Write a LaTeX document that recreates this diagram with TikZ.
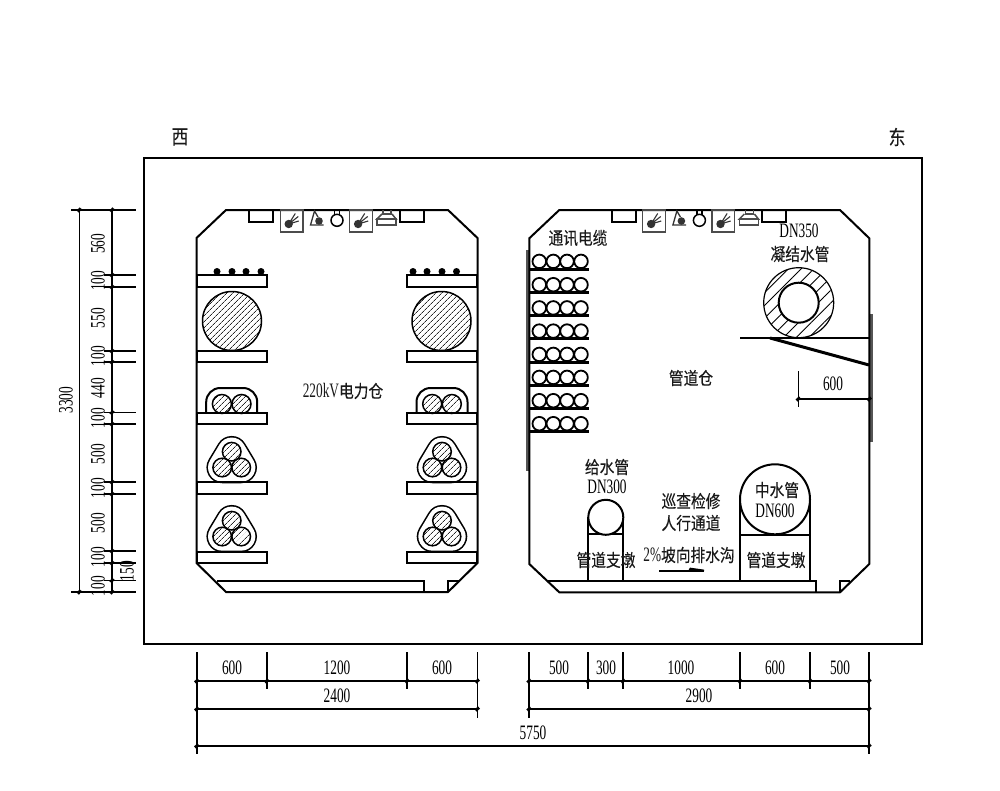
\documentclass[tikz,border=0pt]{standalone}
\usepackage{fontspec}
\setmainfont{Liberation Serif}
\newfontfamily\cjk[FakeStretch=0.84,FakeBold=0.2]{Noto Sans CJK SC}
\newfontfamily\lat[FakeStretch=0.65]{Liberation Serif}
\usetikzlibrary{patterns.meta}
\definecolor{wall}{HTML}{555555}
\tikzset{
  x=1pt,y=-1pt,
  struct/.style={draw=black,line width=2pt,line join=miter},
  thin struct/.style={draw=black,line width=1.5pt},
  dimline/.style={draw=black,line width=1.6pt},
  tick/.style={draw=black,line width=3pt},
  fine/.style={draw=black,line width=1.5pt,pattern={Lines[angle=45,distance=4pt,line width=.7pt]},pattern color=black!85},
  coarse/.style={draw=black,line width=1.2pt,pattern={Lines[angle=45,distance=9pt,line width=.9pt]},pattern color=black},
  lbl/.style={font=\lat\fontsize{20.5}{22}\selectfont,inner sep=0pt,text=black},
  zh/.style={font=\cjk\fontsize{17.5}{20}\selectfont,inner sep=0pt,text=black!90},
  vlbl/.style={lbl,rotate=90},
}
\newcommand{\shelf}[3]{\draw[struct] (#1,#2) rectangle (#1+70,#3);}
\newcommand{\trefoil}[2]{%
  \draw[black,line width=31.5pt,line join=round] (#1,#2) -- (#1-9.5,#2+15.8) -- (#1+9.5,#2+15.8) -- cycle;
  \draw[white,line width=28.3pt,line join=round] (#1,#2) -- (#1-9.5,#2+15.8) -- (#1+9.5,#2+15.8) -- cycle;
  \path[fine] (#1,#2) circle (9.3);
  \path[fine] (#1-9.5,#2+15.8) circle (9.3);
  \path[fine] (#1+9.5,#2+15.8) circle (9.3);
}
\newcommand{\duo}[1]{%
  \draw[struct,rounded corners=14pt] (#1-25.5,413) -- (#1-25.5,388) -- (#1+25.5,388) -- (#1+25.5,413);
  \path[fine] (#1-9.8,404) circle (9.5);
  \path[fine] (#1+9.8,404) circle (9.5);
}
\newcommand{\fixtures}[1]{%
  \begin{scope}[xshift=#1pt]
  \draw[struct] (249.3,210) rectangle (273.3,222);
  \draw[struct] (400,210) rectangle (424,222);
  \foreach \bx in {280.3,349.7}{
    \draw[thin struct,draw=black!70] (\bx,210) rectangle (\bx+22.6,232);
    \fill[black!80] (\bx+8.4,224) circle (4.2);
    \draw[black!80,line width=1.1pt] (\bx+8.4,224) -- (\bx+15,213.5) (\bx+8.4,224) -- (\bx+18,216.5) (\bx+8.4,224) -- (\bx+18.5,221);
  }
  \draw[black!80,line width=1.3pt] (323.7,225) -- (310.5,225) -- (314.5,211) -- (318,217);
  \fill[black!80] (319,221) circle (3.8);
  \draw[thin struct] (337,220.3) circle (6);
  \draw[thin struct] (334.5,210) -- (334.5,215) (339.5,210) -- (339.5,215);
  \draw[thin struct,draw=black!70] (383,210) -- (383,214) -- (391,214) -- (391,210);
  \draw[thin struct,draw=black!70] (382,214) -- (377,219) -- (396,219) -- (392,214);
  \draw[thin struct,draw=black!70] (377,219) rectangle (396,225);
  \end{scope}
}
\begin{document}
\begin{tikzpicture}
\useasboundingbox (0,0) rectangle (1000,790);
\fill[white] (0,0) rectangle (1000,790);
% outer frame
\draw[struct] (144,158) rectangle (922,644);
\node[zh,font=\cjk\fontsize{20}{22}\selectfont] (west) at (180,137) {西};
\node[zh,font=\cjk\fontsize{20}{22}\selectfont] (east) at (897,137) {东};

% ---- left chamber
\duo{231.7}
\duo{442}
\trefoil{231.7}{451.7}
\trefoil{442}{451.7}
\trefoil{231.7}{520.7}
\trefoil{442}{520.7}
\draw[struct] (226,210) -- (448,210) -- (477.5,238) -- (477.5,563) -- (448,592) -- (226,592) -- (196.5,563) -- (196.5,238) -- cycle;
\draw[struct] (217,580.5) -- (424,580.5) -- (424,592);
\draw[struct] (448,592) -- (448,580.5) -- (459,580.5);
\fixtures{0}
\foreach \sx in {196.5,407}{
  \shelf{\sx}{275}{287}
  \shelf{\sx}{351}{362}
  \shelf{\sx}{413}{424}
  \shelf{\sx}{482}{494}
  \shelf{\sx}{552}{563}
}
\foreach \dx in {217,232,246,261,413,427,442,456.5}{\fill (\dx,271.5) circle (3.5);}
\path[fine] (232,321) circle (29.5);
\path[fine] (441.5,321) circle (29.5);
\node[zh] (power) at (343,391) {{\lat\fontsize{20.5}{22}\selectfont 220kV}电力仓};

% ---- right chamber
\fill[wall] (525.5,250) rectangle (529.5,471);
\fill[wall] (869,314) rectangle (873,442);
\draw[struct] (559.3,210) -- (840,210) -- (869.3,238.3) -- (869.3,564) -- (840,592.3) -- (559.3,592.3) -- (529.3,564) -- (529.3,238.3) -- cycle;
\draw[struct] (547.3,580.5) -- (816,580.5) -- (816,592.3);
\draw[struct] (840,592.3) -- (840,580.5) -- (850,580.5);
\fixtures{362.4}
\foreach \ty in {269,292.3,315.5,338.7,362,385,408.3,431.3}{
  \draw[black,line width=3pt] (530,\ty) -- (589,\ty);
  \foreach \cx in {539.3,553.3,567,581}{\draw[black,line width=1.8pt] (\cx,\ty-7.6) circle (6.8);}
}
\path[coarse] (798.7,302.7) circle (35);
\draw[struct,fill=white] (798.7,302.7) circle (20);
\draw[black,line width=2.4pt] (740,337.7) -- (869,337.7);
\draw[black,line width=3pt] (770,338) -- (869,365);
% supports
\draw[struct] (588.3,517.3) -- (588.3,580.5) (623.3,517.3) -- (623.3,580.5) (588.3,534.4) -- (623.3,534.4);
\draw[struct,fill=white] (605.8,517.3) circle (17.5);
\draw[struct] (740,499.3) -- (740,580.5) (810,499.3) -- (810,580.5) (740,534.6) -- (810,534.6);
\draw[struct,fill=white] (775,499.3) circle (35);
% slope arrow
\draw[black,line width=1.8pt] (659,571) -- (704,571);
\fill (688,571) -- (704,571) -- (704,569.6) -- (690,567.6) -- cycle;
% labels
\node[zh] (tele) at (578,238) {通讯电缆};
\node[lbl] (dn350) at (799,231) {DN350};
\node[zh] (cond) at (800,254) {凝结水管};
\node[zh] (pipe) at (691,378) {管道仓};
\node[zh] (supply) at (607,467) {给水管};
\node[lbl] (dn300) at (607,487) {DN300};
\node[zh] (patrol) at (691,501) {巡查检修};
\node[zh] (walk) at (691,523) {人行通道};
\node[zh] (slope) at (689,555) {{\lat\fontsize{20.5}{22}\selectfont 2\%}坡向排水沟};
\node[zh] (mid) at (777,490) {中水管};
\node[lbl] (dn600) at (775,511) {DN600};
\node[zh] (pier1) at (606,560) {管道支墩};
\node[zh] (pier2) at (776,560) {管道支墩};
% 600 dimension
\draw[dimline] (798.3,371) -- (798.3,407);
\draw[dimline] (798.3,399) -- (869,399);
\draw[tick] (796.5,400.5) -- (800,397.5) (867.5,400.5) -- (871,397.5);
\node[lbl] (d600) at (833,384) {600};

% ---- left dimensions
\draw[dimline] (79.3,210) -- (79.3,592);
\draw[dimline,line width=2.2pt] (112,210) -- (112,592);
\draw[dimline] (71,210) -- (136,210);
\draw[dimline] (71,592) -- (136,592);
\foreach \hy in {275,287,351,362,412.5,424,482,494,551,563,580.5}{
  \draw[dimline] (104,\hy) -- (136,\hy);
  \draw[tick] (110.5,\hy+1.7) -- (113.5,\hy-1.7);
}
\foreach \hx in {79.3,112}{
  \draw[tick] (\hx-1.5,211.7) -- (\hx+1.5,208.3);
  \draw[tick] (\hx-1.5,593.7) -- (\hx+1.5,590.3);
}
\node[vlbl] (a1) at (98,244) {560};
\node[vlbl] (a2) at (98,281) {100};
\node[vlbl] (a3) at (98,318) {550};
\node[vlbl] (a4) at (98,356) {100};
\node[vlbl] (a5) at (98,388) {440};
\node[vlbl] (a6) at (98,418) {100};
\node[vlbl] (a7) at (98,454) {500};
\node[vlbl] (a8) at (98,488) {100};
\node[vlbl] (a9) at (98,523) {500};
\node[vlbl] (a10) at (98,557) {100};
\node[vlbl] (a11) at (98,586) {100};
\node[vlbl] (a12) at (127,571) {150};
\node[vlbl] (a13) at (66,400) {3300};

% ---- bottom dimensions
\foreach \bx/\byy in {266.7/689,407/689,588/689,623/689,740/689,810/689,477.3/717.5,529/717.5}{
  \draw[dimline] (\bx,652) -- (\bx,\byy);
}
\draw[dimline] (196.7,652) -- (196.7,754);
\draw[dimline] (869,652) -- (869,754);
\draw[dimline,line width=2.2pt] (196.7,681) -- (477.3,681);
\draw[dimline,line width=2.2pt] (529,681) -- (869,681);
\draw[dimline] (196.7,709) -- (477.3,709);
\draw[dimline] (529,709) -- (869,709);
\draw[dimline] (196.7,746) -- (869,746);
\foreach \bx in {196.7,266.7,407,477.3,529,588,623,740,810,869}{\draw[tick] (\bx-1.7,682.5) -- (\bx+1.7,679.5);}
\foreach \bx in {196.7,477.3,529,869}{\draw[tick] (\bx-1.7,710.5) -- (\bx+1.7,707.5);}
\foreach \bx in {196.7,869}{\draw[tick] (\bx-1.7,747.5) -- (\bx+1.7,744.5);}
\node[lbl] (b1) at (232,668) {600};
\node[lbl] (b2) at (337,668) {1200};
\node[lbl] (b3) at (442,668) {600};
\node[lbl] (b4) at (337,696) {2400};
\node[lbl] (b5) at (559,668) {500};
\node[lbl] (b6) at (606,668) {300};
\node[lbl] (b7) at (681,668) {1000};
\node[lbl] (b8) at (775,668) {600};
\node[lbl] (b9) at (840,668) {500};
\node[lbl] (b10) at (699,696) {2900};
\node[lbl] (b11) at (533,733) {5750};
\end{tikzpicture}
\end{document}
